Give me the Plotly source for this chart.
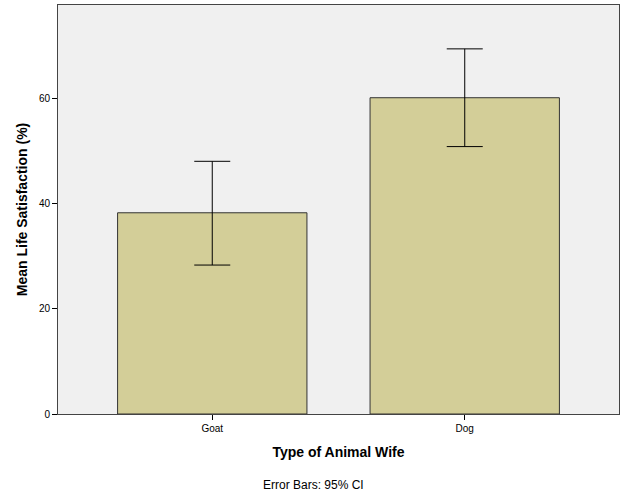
import plotly.graph_objects as go

categories = ["Goat", "Dog"]
means = [38.3, 60.2]
ci_upper = [48.1, 69.5]
ci_lower = [28.35, 50.9]

err_plus = [u - m for u, m in zip(ci_upper, means)]
err_minus = [m - l for m, l in zip(means, ci_lower)]

fig = go.Figure()
fig.add_trace(go.Bar(
    x=categories, y=means, width=0.75,
    marker=dict(color="#D3CE98", line=dict(color="#333333", width=1)),
    error_y=dict(type="data", symmetric=False, array=err_plus, arrayminus=err_minus,
                 color="#000000", thickness=1, width=18),
))

fig.update_layout(
    width=625, height=500,
    margin=dict(l=58, r=6, t=5, b=86),
    paper_bgcolor="#FFFFFF", plot_bgcolor="#F0F0F0",
    font=dict(family="Liberation Sans, Arial, sans-serif", color="#000000"),
    showlegend=False,
    annotations=[dict(text="Error Bars: 95% CI", xref="paper", yref="paper",
                      x=0.456, y=0, yshift=-71, showarrow=False,
                      font=dict(size=12, color="#000000"), xanchor="center", yanchor="middle")],
)
fig.update_xaxes(
    type="category", range=[-0.611, 1.611],
    showline=True, linecolor="#444444", linewidth=1, mirror=True,
    ticks="outside", ticklen=5, tickcolor="#000000",
    tickfont=dict(size=10), showgrid=False,
    title=dict(text="<b>Type of Animal Wife</b>", font=dict(size=14), standoff=14),
)
fig.update_yaxes(
    range=[0, 77.85], tickvals=[0, 20, 40, 60],
    showline=True, linecolor="#444444", linewidth=1, mirror=True,
    ticks="outside", ticklen=5, tickcolor="#000000",
    tickfont=dict(size=10), showgrid=False, zeroline=False,
    title=dict(text="<b>Mean Life Satisfaction (%)</b>", font=dict(size=14), standoff=7),
)

fig.write_html("out.html", config={"displayModeBar": False})

with open("out.html", "r", encoding="utf-8") as f:
    html = f.read()
html = html.replace("<body>", '<body style="margin:0;padding:0;">', 1)
with open("out.html", "w", encoding="utf-8") as f:
    f.write(html)
